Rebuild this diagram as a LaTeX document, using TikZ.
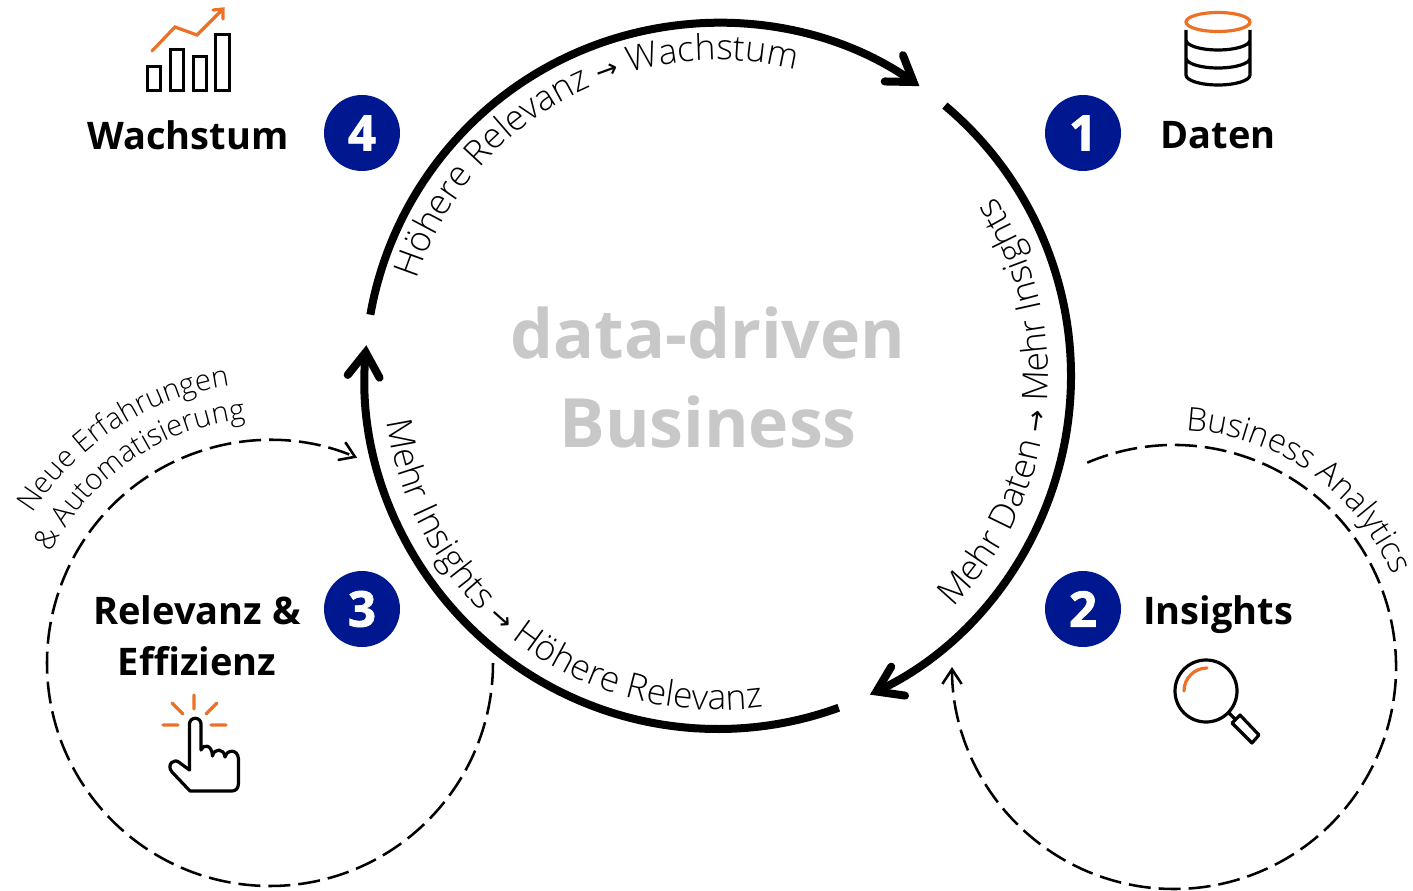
\documentclass[tikz,border=0pt]{standalone}
\usepackage{fontspec}
\setmainfont{Open Sans}
\newfontfamily\lightfont{Open Sans Light}
\newfontfamily\arrowfont{DejaVu Sans}
\newfontfamily\badgefont[BoldFeatures={FakeBold=1.5}]{Open Sans}
\usetikzlibrary{arrows.meta,positioning,decorations.text}
\definecolor{badgeblue}{HTML}{00188F}
\definecolor{iconorange}{HTML}{ED7125}
\definecolor{centergray}{HTML}{C8C8C8}
\protected\def\arcfont{\lightfont\fontsize{26.5pt}{30pt}\selectfont}
\protected\def\sidefont{\lightfont\fontsize{22pt}{26pt}\selectfont}
\protected\def\bigsidefont{\lightfont\fontsize{24.5pt}{28pt}\selectfont}
\protected\def\tipfont{\arrowfont\fontsize{20pt}{24pt}\selectfont}

\begin{document}
\begin{tikzpicture}
			[x=0.75pt,y=-0.75pt,align=center,node distance=540.75pt,
			badge/.style={circle,fill=badgeblue,text=white,minimum size=57pt,inner sep=0pt,font=\badgefont\bfseries\fontsize{37pt}{37pt}\selectfont},
			title/.style={font=\bfseries\fontsize{28.5pt}{38pt}\selectfont},
			mainarc/.style={line width=6pt,-{Straight Barb[length=18pt,width=24pt,line cap=round]}},
			sidearc/.style={line width=1.9pt,dash pattern=on 16.5pt off 6pt,-{Straight Barb[length=11pt,width=14.5pt]}},
			icon/.style={line width=2.4pt},
			accent/.style={line width=2.4pt,iconorange,line cap=round},
			arclabel/.style={decorate,decoration={text along path,text align=center,text={#1}}}]
			\useasboundingbox (0,0) rectangle (1413,891);
			\coordinate (c) at (718,376);
			\coordinate (r) at (1174,667);
			\coordinate (l) at (270,663);

			\node[badge] (n4) at (362,133) {4};
			\node[badge, right of=n4] (n1) {1};
			\node[badge, below of=n4, node distance=357pt] (n3) {3};
			\node[badge, below of=n1, node distance=357pt] (n2) {2};
			\node[title] (wachstum) at (188,135) {Wachstum};
			\node[title] (daten) at (1218,135) {Daten};
			\node[title] (insights) at (1218,615) {Insights};
			\node[title] (relevanz) at (197,636) {Relevanz \&\\Effizienz};
			\node[font=\bfseries\fontsize{51pt}{66.75pt}\selectfont,text=centergray] (business) at (708,377) {data-driven\\Business};

			\draw[mainarc] ([shift={(-50:353)}]c) arc[start angle=-50,end angle=64.5,radius=353];
			\draw[mainarc] ([shift={(70:353)}]c) arc[start angle=70,end angle=185,radius=353];
			\draw[mainarc] ([shift={(190:353)}]c) arc[start angle=190,end angle=304.8,radius=353];
			\draw[sidearc] ([shift={(-113:222)}]r) arc[start angle=-113,end angle=180,radius=222];
			\draw[sidearc] ([shift={(0:223)}]l) arc[start angle=0,end angle=293,radius=223];

			\path[arclabel={|\arcfont|Mehr Daten |||\tipfont|→|||\arcfont| Mehr Insights||{}}] ([shift={(50.8:330)}]c) arc[start angle=50.8,end angle=-39.2,radius=330];
			\path[arclabel={|\arcfont|Mehr Insights |||\tipfont|→|||\arcfont| Höhere Relevanz||{}}] ([shift={(179.2:334)}]c) arc[start angle=179.2,end angle=75.2,radius=334];
			\path[arclabel={|\arcfont|Höhere Relevanz |||\tipfont|→|||\arcfont| Wachstum||{}}] ([shift={(-169:316)}]c) arc[start angle=-169,end angle=-69,radius=316];
			\path[arclabel={|\bigsidefont|Business Analytics||{}}] ([shift={(-95:237)}]r) arc[start angle=-95,end angle=-15,radius=237];
			\path[arclabel={|\sidefont|Neue Erfahrungen||{}}] ([shift={(-148:280)}]l) arc[start angle=-148,end angle=-98,radius=280];
			\path[arclabel={|\sidefont|{\&} Automatisierung||{}}] ([shift={(-153:245)}]l) arc[start angle=-153,end angle=-96,radius=245];

			\draw[icon] (147.5,66.5) rectangle (160.5,90.5) (170.5,49.5) rectangle (183.5,90.5) (193.5,56.5) rectangle (206.5,90.5) (215.5,34.5) rectangle (229.5,90.5);
			\draw[accent] (152,51) -- (175,27) -- (197,35) -- (222,10) (213,10) -- (223,9) -- (223,19);

			\draw[accent] (1218,22) ellipse[x radius=32,y radius=9.5];
			\draw[icon] (1186,30) -- (1186,75) arc[start angle=180,end angle=0,x radius=32,y radius=10] -- (1250,30)
				(1186,40) arc[start angle=180,end angle=0,x radius=32,y radius=10]
				(1186,58) arc[start angle=180,end angle=0,x radius=32,y radius=10];

			\draw[icon] (1206,691) circle[radius=31] (1229,713) -- (1236,720);
			\draw[icon,line join=round] (1240,715) -- (1259,735) -- (1252,743) -- (1232,723) -- cycle;
			\draw[accent] (1184,691) arc[start angle=180,end angle=270,radius=23];

			\draw[accent] (194,695) -- (194,709) (172,703) -- (183,714) (217,703) -- (206,714) (163,725) -- (178,725) (211,725) -- (226,725);
			\draw[icon,line join=round] (189.5,770) -- (189.5,724) arc[start angle=180,end angle=360,radius=5.75] -- (201,750)
				.. controls (203,744) and (212,744) .. (212.5,756)
				.. controls (214,748) and (224,748) .. (225,757)
				.. controls (227,749) and (238,749) .. (238.5,759) -- (238.5,783)
				.. controls (238.5,788) and (236,791) .. (232,791) -- (190,791) -- (172,772)
				.. controls (166,765) and (174,757) .. (180,763) -- cycle;
		\end{tikzpicture}
\end{document}
